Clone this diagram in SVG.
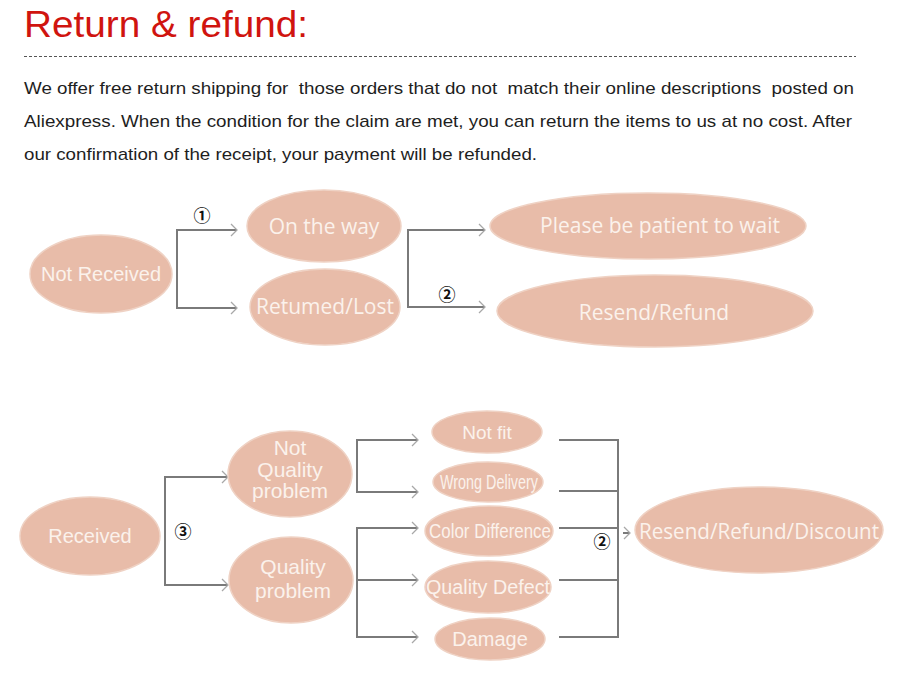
<svg xmlns="http://www.w3.org/2000/svg" width="917" height="677" viewBox="0 0 917 677">
<defs>
<marker id="chev" markerUnits="userSpaceOnUse" markerWidth="12" markerHeight="14" refX="8" refY="7" orient="auto-start-reverse">
<path d="M2,1 L8,7 L2,13" fill="none" stroke="#a8a8a8" stroke-width="1.3"/>
</marker>
</defs>
<style>
.bg{fill:#ffffff}
.title{font-family:"Liberation Sans",Arial,sans-serif;font-size:36px;fill:#d0140f}
.para{font-family:"Liberation Sans",Arial,sans-serif;font-size:17px;fill:#1e1e1e;white-space:pre}
.node ellipse{fill:#e8bca9;stroke:#efd2c4;stroke-width:1.5}
.lbl{font-family:"Open Sans","Noto Sans",sans-serif;fill:#fbf2ec;text-anchor:middle}
.lbla{font-family:"Liberation Sans",Arial,sans-serif;fill:#fbf2ec;text-anchor:middle}
.conn path,.conn line{fill:none;stroke:#7a7a7a;stroke-width:2}
.num{font-family:"Noto Sans CJK SC","DejaVu Sans",sans-serif;font-size:17px;font-weight:bold;fill:#111;text-anchor:middle}
</style>
<rect class="bg" x="0" y="0" width="917" height="677"/>
<text class="title" x="24" y="37" textLength="284" lengthAdjust="spacingAndGlyphs">Return &amp; refund:</text>
<line x1="24" y1="56.5" x2="856" y2="56.5" stroke="#555" stroke-width="1" stroke-dasharray="3,2"/>
<text class="para" x="24" y="94" textLength="830" lengthAdjust="spacingAndGlyphs">We offer free return shipping for  those orders that do not  match their online descriptions  posted on</text>
<text class="para" x="24" y="127" textLength="828" lengthAdjust="spacingAndGlyphs">Aliexpress. When the condition for the claim are met, you can return the items to us at no cost. After</text>
<text class="para" x="24" y="160" textLength="513" lengthAdjust="spacingAndGlyphs">our confirmation of the receipt, your payment will be refunded.</text>

<g id="connectors" class="conn">
<path d="M237,230 H177 V308 H237" marker-start="url(#chev)" marker-end="url(#chev)"/>
<path d="M485,230 H408 V307 H485" marker-start="url(#chev)" marker-end="url(#chev)"/>
<path d="M228,477 H165 V585 H228" marker-start="url(#chev)" marker-end="url(#chev)"/>
<path d="M418,440 H357 V492 H418" marker-start="url(#chev)" marker-end="url(#chev)"/>
<path d="M418,528 H357 V637 H418" marker-start="url(#chev)" marker-end="url(#chev)"/>
<line x1="357" y1="580" x2="418" y2="580" marker-end="url(#chev)"/>
<path d="M559,440 H618 V637 H559"/>
<line x1="559" y1="491" x2="618" y2="491"/>
<line x1="559" y1="528" x2="618" y2="528"/>
<line x1="559" y1="580" x2="618" y2="580"/>
<line x1="623" y1="533" x2="630" y2="533" stroke="none" marker-end="url(#chev)"/>
<text class="num" x="202" y="222">①</text>
<text class="num" x="447" y="301">②</text>
<text class="num" x="183" y="538">③</text>
<text class="num" x="602" y="548">②</text>
</g>

<g id="not-received" class="node"><ellipse cx="101" cy="274" rx="71" ry="39"/><text class="lbla" x="101" y="281" font-size="20">Not Received</text></g>
<g id="on-the-way" class="node"><ellipse cx="324" cy="226" rx="77" ry="36"/><text class="lbl" x="324" y="234" font-size="21">On the way</text></g>
<g id="returned-lost" class="node"><ellipse cx="325" cy="307" rx="75" ry="38"/><text class="lbl" x="325" y="314" font-size="21">Retumed/Lost</text></g>
<g id="patient" class="node"><ellipse cx="648" cy="226" rx="158" ry="33"/><text class="lbl" x="660" y="233" font-size="21">Please be patient to wait</text></g>
<g id="resend-refund" class="node"><ellipse cx="655" cy="311" rx="158" ry="36"/><text class="lbl" x="654" y="320" font-size="21">Resend/Refund</text></g>

<g id="received" class="node"><ellipse cx="90" cy="536" rx="70" ry="39"/><text class="lbla" x="90" y="543" font-size="20">Received</text></g>
<g id="not-quality" class="node"><ellipse cx="290" cy="474" rx="62" ry="43"/><text class="lbla" x="290" y="455" font-size="21">Not</text><text class="lbla" x="290" y="477" font-size="21">Quality</text><text class="lbla" x="290" y="498" font-size="21">problem</text></g>
<g id="quality" class="node"><ellipse cx="291" cy="580" rx="62" ry="43"/><text class="lbla" x="293" y="574" font-size="21">Quality</text><text class="lbla" x="293" y="598" font-size="21">problem</text></g>

<g id="not-fit" class="node"><ellipse cx="487" cy="432" rx="55" ry="21"/><text class="lbla" x="487" y="439" font-size="19">Not fit</text></g>
<g id="wrong-delivery" class="node"><ellipse cx="488" cy="482" rx="55" ry="20"/><text class="lbla" x="489" y="489" font-size="20" textLength="98" lengthAdjust="spacingAndGlyphs">Wrong Delivery</text></g>
<g id="color-difference" class="node"><ellipse cx="489" cy="531" rx="64" ry="25"/><text class="lbla" x="490" y="538" font-size="21" textLength="122" lengthAdjust="spacingAndGlyphs">Color Difference</text></g>
<g id="quality-defect" class="node"><ellipse cx="488" cy="587" rx="63" ry="26"/><text class="lbla" x="488" y="594" font-size="20" textLength="124" lengthAdjust="spacingAndGlyphs">Quality Defect</text></g>
<g id="damage" class="node"><ellipse cx="490" cy="639" rx="55" ry="21"/><text class="lbla" x="490" y="646" font-size="20">Damage</text></g>
<g id="resend-refund-discount" class="node"><ellipse cx="759" cy="530" rx="124" ry="43"/><text class="lbl" x="759" y="539" font-size="22" textLength="240" lengthAdjust="spacingAndGlyphs">Resend/Refund/Discount</text></g>
</svg>
